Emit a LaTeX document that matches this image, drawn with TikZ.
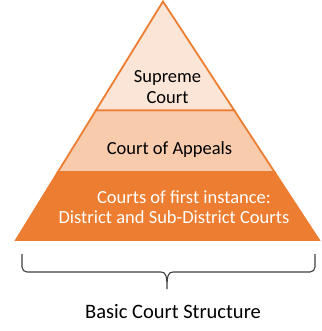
\documentclass[tikz,border=0pt]{standalone}
\usepackage{fontspec}
\setmainfont{Carlito}
\usetikzlibrary{calc}
\definecolor{tierA}{HTML}{FBE5D6}
\definecolor{tierB}{HTML}{F8CBAD}
\definecolor{tierC}{HTML}{ED7D31}
\definecolor{braceGray}{HTML}{404040}
\begin{document}
\begin{tikzpicture}[x=1pt,y=1pt,
  tierline/.style={draw=tierC,line width=1.8pt,line join=miter},
  tiertext/.style={font=\fontsize{18.5}{20}\selectfont,inner sep=0pt,anchor=base},
  bracestyle/.style={draw=braceGray,line width=1.1pt}]
\useasboundingbox (0,0) rectangle (321,-331);
\coordinate (apex) at (163,-1.5);
\coordinate (bl) at (16,-240);
\coordinate (br) at (319,-240);
\coordinate (l1) at ($(apex)!0.456!(bl)$);
\coordinate (r1) at ($(apex)!0.456!(br)$);
\coordinate (l2) at ($(apex)!0.7155!(bl)$);
\coordinate (r2) at ($(apex)!0.7155!(br)$);
% tiers
\filldraw[tierline,fill=tierC] (l2) -- (r2) -- (br) -- (bl) -- cycle;
\filldraw[tierline,fill=tierB] (l1) -- (r1) -- (r2) -- (l2) -- cycle;
\filldraw[tierline,fill=tierA] (apex) -- (r1) -- (l1) -- cycle;
% texts
\node[tiertext] (sup1) at (167.5,-83) {Supreme};
\node[tiertext] (sup2) at (167.5,-104) {Court};
\node[tiertext] (coa) at (169.5,-154) {Court of Appeals};
\node[tiertext,text=white] (cfi1) at (184,-203) {Courts of first instance:};
\node[tiertext,text=white] (cfi2) at (174,-223.5) {District and Sub-District Courts};
% brace
\coordinate (bL) at (22,-254);
\coordinate (bR) at (315,-254);
\coordinate (bT) at (167,-289);
\draw[bracestyle] (bL) -- (22,-267) arc[start angle=180,end angle=270,radius=5]
  -- (161,-272) .. controls (166,-272) and (167,-276) .. (bT)
  .. controls (167,-276) and (168,-272) .. (173,-272)
  -- (310,-272) arc[start angle=270,end angle=360,radius=5] -- (bR);
\node[font=\fontsize{20.5}{22}\selectfont,inner sep=0pt,anchor=base] (lab) at (173,-318) {Basic Court Structure};
\end{tikzpicture}
\end{document}
